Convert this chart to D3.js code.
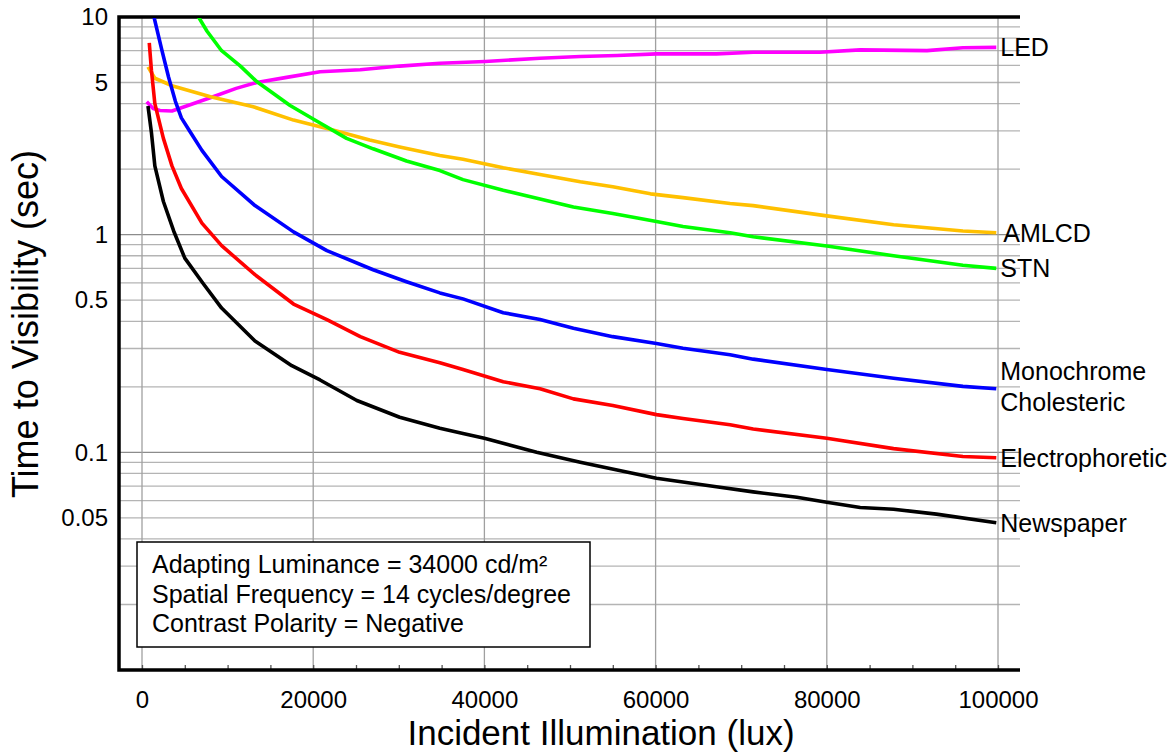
<!DOCTYPE html>
<html>
<head>
<meta charset="utf-8">
<script src="https://cdn.jsdelivr.net/npm/d3@7"></script>
<style>
    body { margin: 0; background: #fff; }
    text { font-family: "Liberation Sans", Arial, sans-serif; fill: #000; }
</style>
</head>
<body>
<div id="chart"></div>
<script>
// Data: [incident illumination (lux), time to visibility (sec)]
const newspaper = [[700, 3.9], [1100, 2.95], [1500, 2.07], [2500, 1.42], [3700, 1.04], [5000, 0.78], [7100, 0.6], [9300, 0.46], [13200, 0.325], [17500, 0.25], [20800, 0.215], [25100, 0.173], [30100, 0.145], [34800, 0.129], [37500, 0.122], [40000, 0.116], [46100, 0.1], [51200, 0.09], [55500, 0.083], [60100, 0.076], [67100, 0.0695], [71400, 0.0658], [76500, 0.0622], [80000, 0.059], [83900, 0.0558], [87800, 0.0548], [92800, 0.052], [99800, 0.0475]];

const electrophoretic = [[850, 7.6], [1100, 5.7], [1500, 4.0], [2500, 2.77], [3500, 2.07], [4600, 1.63], [7000, 1.13], [9300, 0.89], [13200, 0.655], [17700, 0.48], [21600, 0.407], [25500, 0.34], [30100, 0.288], [34800, 0.258], [37500, 0.24], [42200, 0.211], [46500, 0.196], [50400, 0.176], [55000, 0.164], [60100, 0.149], [63200, 0.143], [68700, 0.134], [71400, 0.128], [80000, 0.116], [87800, 0.104], [95900, 0.0957], [99800, 0.0944]];

const cholesteric = [[1400, 10], [2300, 7.1], [3100, 5.3], [3900, 4.1], [4600, 3.44], [5600, 2.98], [7000, 2.44], [9300, 1.85], [13200, 1.36], [17700, 1.03], [21600, 0.845], [27000, 0.69], [30900, 0.608], [34800, 0.54], [37500, 0.507], [42200, 0.438], [46500, 0.408], [50400, 0.372], [55000, 0.34], [60100, 0.316], [63200, 0.301], [68700, 0.281], [71400, 0.268], [80000, 0.24], [87800, 0.219], [95900, 0.201], [99800, 0.196]];

const stn = [[6600, 10], [7600, 8.6], [9300, 7.0], [11500, 5.95], [13400, 5.05], [17300, 3.92], [20800, 3.26], [23900, 2.77], [27000, 2.48], [30900, 2.18], [34800, 1.97], [37500, 1.79], [42200, 1.6], [46500, 1.46], [50400, 1.34], [55000, 1.25], [60100, 1.15], [63200, 1.09], [68700, 1.02], [71400, 0.978], [80000, 0.887], [87800, 0.8], [95900, 0.723], [99800, 0.7]];

const amlcd = [[700, 5.9], [1500, 5.23], [3600, 4.82], [8000, 4.3], [13000, 3.87], [17700, 3.36], [22400, 3.02], [26600, 2.72], [30100, 2.53], [34800, 2.31], [37500, 2.22], [42200, 2.03], [46500, 1.89], [51200, 1.75], [55000, 1.66], [59400, 1.54], [63200, 1.48], [68700, 1.39], [71400, 1.36], [80000, 1.22], [87800, 1.11], [95900, 1.04], [99800, 1.02]];

const led = [[550, 4.08], [1300, 3.8], [2100, 3.72], [3500, 3.7], [5200, 3.9], [8300, 4.3], [11000, 4.7], [13400, 5.0], [16900, 5.28], [20800, 5.6], [25500, 5.72], [30100, 5.95], [34800, 6.13], [40100, 6.25], [46500, 6.46], [51200, 6.58], [55500, 6.65], [60100, 6.77], [67100, 6.77], [71400, 6.89], [79200, 6.89], [83900, 7.06], [91700, 7.01], [95900, 7.22], [99800, 7.25]];

const xTicks = [0, 20000, 40000, 60000, 80000, 100000];
const yTicks = [10, 5, 1, 0.5, 0.1, 0.05];
const notes = ['Adapting Luminance = 34000 cd/m\u00b2', 'Spatial Frequency = 14 cycles/degree', 'Contrast Polarity = Negative'];

const series = [
    { name: ['LED'], color: '#ff00ff', values: led, dx: 4 },
    { name: ['AMLCD'], color: '#ffc000', values: amlcd, dx: 7 },
    { name: ['STN'], color: '#00ff00', values: stn, dx: 4 },
    { name: ['Monochrome', 'Cholesteric'], color: '#0000ff', values: cholesteric, dx: 4 },
    { name: ['Electrophoretic'], color: '#ff0000', values: electrophoretic, dx: 4 },
    { name: ['Newspaper'], color: '#000000', values: newspaper, dx: 4 }
];

// Create SVG container
const width = 1176;
const height = 754;
const plotLeft = 119, plotRight = 1020, plotTop = 17, plotBottom = 670;

const svg = d3.select('#chart')
    .append('svg')
    .attr('width', width)
    .attr('height', height);

// Scales
const x = d3.scaleLinear().domain([0, 100000]).range([142, 998]);
const y = d3.scaleLog().domain([0.01, 10]).range([plotBottom, plotTop]);

// Horizontal grid (every 1..9 of each decade)
const hGrid = [];
[0.01, 0.1, 1].forEach(dec => d3.range(1, 10).forEach(k => hGrid.push(k * dec)));
hGrid.push(10);

svg.append('g')
    .selectAll('line')
    .data(hGrid)
    .enter()
    .append('line')
    .attr('x1', plotLeft)
    .attr('x2', plotRight)
    .attr('y1', d => y(d))
    .attr('y2', d => y(d))
    .attr('stroke', d => [0.1, 1].includes(d) ? '#8c8c8c' : '#b4b4b4')
    .attr('stroke-width', 1.3);

// Vertical grid
svg.append('g')
    .selectAll('line')
    .data(xTicks)
    .enter()
    .append('line')
    .attr('x1', d => x(d))
    .attr('x2', d => x(d))
    .attr('y1', plotTop)
    .attr('y2', plotBottom)
    .attr('stroke', '#a0a0a0')
    .attr('stroke-width', 1.3);

// Bottom axis: minor ticks + labels
svg.append('g')
    .attr('transform', `translate(0,${plotBottom})`)
    .call(d3.axisBottom(x).tickValues(d3.range(0, 100001, 5000)).tickSize(-5).tickFormat(''))
    .call(g => g.select('.domain').remove())
    .call(g => g.selectAll('.tick line').attr('stroke', '#555').attr('stroke-width', 1.3));

svg.append('g')
    .attr('transform', `translate(0,${plotBottom})`)
    .call(d3.axisBottom(x).tickValues(xTicks).tickSize(0).tickPadding(21).tickFormat(d => String(d)))
    .call(g => g.select('.domain').remove())
    .call(g => g.selectAll('text').attr('font-size', 24).attr('font-family', null));

// Left axis labels
svg.append('g')
    .attr('transform', `translate(${plotLeft},0)`)
    .call(d3.axisLeft(y).tickValues(yTicks).tickSize(0).tickPadding(11).tickFormat(d => String(d)))
    .call(g => g.select('.domain').remove())
    .call(g => g.selectAll('text').attr('font-size', 24).attr('font-family', null));

// Frame: left, bottom, top
svg.append('path')
    .attr('d', `M${plotRight},${plotTop} H${plotLeft} V${plotBottom} H${plotRight}`)
    .attr('fill', 'none')
    .attr('stroke', '#000')
    .attr('stroke-width', 3.5);

// Curves
svg.append('clipPath')
    .attr('id', 'plot')
    .append('rect')
    .attr('x', plotLeft)
    .attr('y', plotTop + 1)
    .attr('width', plotRight - plotLeft)
    .attr('height', plotBottom - plotTop);

const line = d3.line()
    .x(d => x(d[0]))
    .y(d => y(d[1]));

svg.append('g')
    .attr('clip-path', 'url(#plot)')
    .selectAll('path')
    .data(series)
    .enter()
    .append('path')
    .attr('d', d => line(d.values))
    .attr('fill', 'none')
    .attr('stroke', d => d.color)
    .attr('stroke-width', 3.6)
    .attr('stroke-linejoin', 'round');

// Series labels at the line ends
const labels = svg.append('g')
    .selectAll('text')
    .data(series)
    .enter()
    .append('text')
    .attr('font-size', 25)
    .attr('x', d => x(d.values[d.values.length - 1][0]) + d.dx)
    .attr('y', d => y(d.values[d.values.length - 1][1]));

labels.selectAll('tspan')
    .data(d => d.name.map((n, i) => ({ n, i, count: d.name.length, x: x(d.values[d.values.length - 1][0]) + d.dx })))
    .enter()
    .append('tspan')
    .attr('x', d => d.x)
    .attr('dy', d => d.count === 1 ? '0.36em' : (d.i === 0 ? '-0.35em' : '1.24em'))
    .text(d => d.n);

// Notes box
const box = svg.append('g');
box.append('rect')
    .attr('x', 137)
    .attr('y', 542)
    .attr('width', 453)
    .attr('height', 105)
    .attr('fill', '#fff')
    .attr('stroke', '#000')
    .attr('stroke-width', 1.5);

box.selectAll('text')
    .data(notes)
    .enter()
    .append('text')
    .attr('x', 152)
    .attr('y', (d, i) => 573 + i * 29.5)
    .attr('font-size', 25)
    .text(d => d);

// Axis titles
svg.append('text')
    .attr('x', 601)
    .attr('y', 745)
    .attr('text-anchor', 'middle')
    .attr('font-size', 35)
    .text('Incident Illumination (lux)');

svg.append('text')
    .attr('transform', 'translate(38,324) rotate(-90)')
    .attr('text-anchor', 'middle')
    .attr('font-size', 36)
    .text('Time to Visibility (sec)');
</script>
</body>
</html>
